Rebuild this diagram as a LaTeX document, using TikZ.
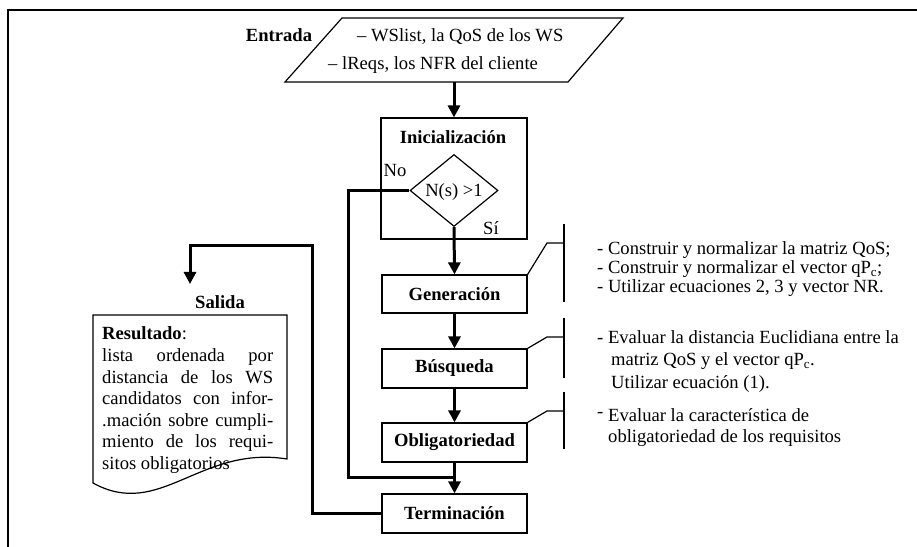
\documentclass[tikz,border=0pt]{standalone}
\usepackage{fontspec}
\setmainfont{Liberation Serif}
\usetikzlibrary{arrows.meta,shapes.geometric}
\newcommand{\myfs}{\fontsize{18.6bp}{21bp}\selectfont}
\tikzset{
  box/.style={draw, line width=1.2bp, minimum width=145bp, inner sep=0pt, font=\myfs\bfseries},
  flow/.style={line width=3bp, -{Triangle[width=12bp,length=12bp]}},
  link/.style={line width=3bp},
  thinl/.style={line width=1.2bp},
  txt/.style={inner sep=0pt, anchor=base west},
  ctxt/.style={inner sep=0pt, anchor=base},
  btxt/.style={inner sep=0pt, anchor=base, font=\myfs\bfseries},
}
\begin{document}
\begin{tikzpicture}[x=1bp,y=-1bp,font=\myfs]
\useasboundingbox (0,0) rectangle (917,547);
% frame
\draw[line width=1.5bp] (8,547) -- (8,10) -- (917,10);
% input parallelogram
\coordinate (p1) at (342,18);
\coordinate (p2) at (623,18);
\coordinate (p3) at (568,82);
\coordinate (p4) at (285,82);
\coordinate (inbot) at (454,82);
\draw[thinl] (p1) -- (p2) -- (p3) -- (p4) -- cycle;
\node[btxt] (entrada) at (279,42) {Entrada};
\node[txt] (in1) at (357,42) {– WSlist, la QoS de los WS};
\node[txt] (in2) at (328,70) {– lReqs, los NFR del cliente};
% initialization
\node[box, minimum width=146bp, minimum height=121bp] (init) at (454,178.5) {};
\node[btxt] (initl) at (453,144) {Inicialización};
\node[draw, thinl, diamond, minimum width=88bp, minimum height=72bp, inner sep=0pt] (dec) at (454,190.5) {};
\node[ctxt] (decl) at (454,197) {N(s) >1};
\node[ctxt] (no) at (395,177) {No};
\node[ctxt] (si) at (491,235) {Sí};
% process boxes
\node[box, minimum height=38bp] (gen) at (454.5,294) {Generación};
\node[box, minimum height=39bp] (bus) at (454.5,368.5) {Búsqueda};
\node[box, minimum height=39bp] (obl) at (454.5,442.5) {Obligatoriedad};
\node[box, minimum height=39bp] (term) at (454.5,513.5) {Terminación};
% flow arrows
\draw[flow] (inbot) -- (init.north);
\draw[flow] (dec.south) -- (gen.north);
\draw[flow] (gen.south) -- (bus.north);
\draw[flow] (bus.south) -- (obl.north);
\draw[flow] (obl.south) -- (term.north);
% No branch
\coordinate (n1) at (348,190.5);
\coordinate (n2) at (348,477);
\coordinate (n3) at (454.5,477);
\draw[link] (dec.west) -- (n1) -- (n2) -- (n3);
% to output
\coordinate (t1) at (312,513.5);
\coordinate (t2) at (312,246);
\coordinate (t3) at (190,246);
\coordinate (t4) at (190,284);
\draw[flow] (term.west) -- (t1) -- (t2) -- (t3) -- (t4);
% output document
\node[btxt] (salida) at (220,309) {Salida};
\draw[thinl] (93,315) -- (287,315) -- (287,459) .. controls (200,445) and (160,520) .. (93,483) -- cycle;
\node[txt] (r0) at (102,340) {\textbf{Resultado}:};
\node[txt] (r1) at (102,361.5) {\makebox[171bp][s]{lista ordenada por}};
\node[txt] (r2) at (102,383) {\makebox[171bp][s]{distancia de los WS}};
\node[txt] (r3) at (102,404.5) {\makebox[171bp][s]{candidatos con infor-}};
\node[txt] (r4) at (102,426) {\makebox[171bp][s]{.mación sobre cumpli-}};
\node[txt] (r5) at (102,447.5) {\makebox[171bp][s]{miento de los requi-}};
\node[txt] (r6) at (102,469) {sitos obligatorios};
% annotation brackets
\coordinate (g1) at (547,243);
\coordinate (g2) at (564,243);
\coordinate (g3) at (564,224);
\coordinate (g4) at (564,302);
\draw[thinl] (gen.north east) -- (g1) -- (g2);
\draw[thinl] (g3) -- (g4);
\coordinate (b1) at (547,337);
\coordinate (b2) at (564,337);
\coordinate (b3) at (564,318);
\coordinate (b4) at (564,378);
\draw[thinl] (bus.north east) -- (b1) -- (b2);
\draw[thinl] (b3) -- (b4);
\coordinate (o1) at (547,411);
\coordinate (o2) at (564,411);
\coordinate (o3) at (564,392);
\coordinate (o4) at (564,449);
\draw[thinl] (obl.north east) -- (o1) -- (o2);
\draw[thinl] (o3) -- (o4);
% annotation texts
\node[txt] (ga) at (597,255) {- Construir y normalizar la matriz QoS;};
\node[txt] (gb) at (597,274) {- Construir y normalizar el vector qP\textsubscript{c};};
\node[txt] (gc) at (597,293) {- Utilizar ecuaciones 2, 3 y vector NR.};
\node[txt] (ba) at (597,344) {- Evaluar la distancia Euclidiana entre la};
\node[txt] (bb) at (611,366) {matriz QoS y el vector qP\textsubscript{c}.};
\node[txt] (bc) at (611,388) {Utilizar ecuación (1).};
\node[txt] (oa0) at (597,417) {-};
\node[txt] (oa) at (608,421) {Evaluar la característica de};
\node[txt] (ob) at (608,442) {obligatoriedad de los requisitos};
\end{tikzpicture}
\end{document}
